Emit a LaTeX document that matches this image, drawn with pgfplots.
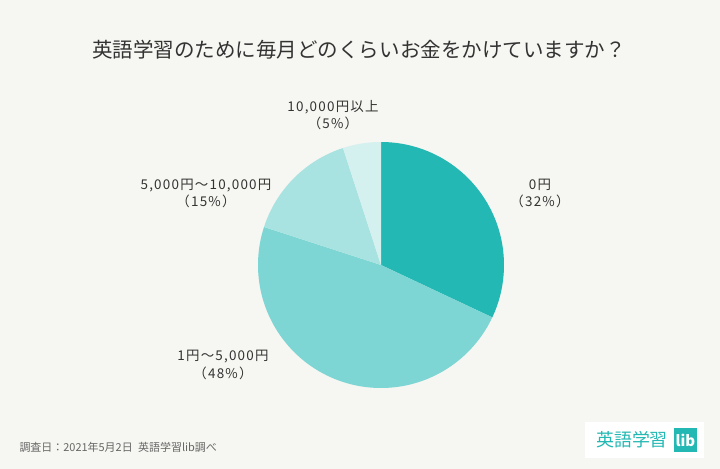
\documentclass[border=0pt]{standalone}
\usepackage{fontspec}
\setmainfont{Noto Sans CJK JP}
\usepackage{pgfplots}
\pgfplotsset{compat=1.18}
\definecolor{bg}{HTML}{F6F6F2}
\definecolor{cA}{HTML}{23B8B3}
\definecolor{cB}{HTML}{7DD6D4}
\definecolor{cC}{HTML}{A8E3E1}
\definecolor{cD}{HTML}{D4F0EF}
\definecolor{txt}{HTML}{333333}
\definecolor{foot}{HTML}{666666}
\newcommand\lblfont{\fontsize{13.5}{17.5}\selectfont\addfontfeature{LetterSpace=9}}
\begin{document}
\begin{tikzpicture}
\fill[bg] (0,0) rectangle (720bp,469bp);
\begin{axis}[x=1bp, y=1bp, xmin=0, xmax=720, ymin=0, ymax=469,
  hide axis, clip=false, at={(0,0)}, anchor=south west]
% shares in percent, clockwise from 12 o'clock
\def\vA{32}\def\vB{48}\def\vC{15}\def\vD{5}
\def\cx{381}\def\cy{204}\def\r{123}
\addplot[fill=cA, draw=none, domain={90-3.6*\vA}:90, samples=80, variable=\t]
  ({\cx+\r*cos(\t)},{\cy+\r*sin(\t)}) -- (axis cs:\cx,\cy) -- cycle;
\addplot[fill=cB, draw=none, domain={90-3.6*(\vA+\vB)}:{90-3.6*\vA}, samples=100, variable=\t]
  ({\cx+\r*cos(\t)},{\cy+\r*sin(\t)}) -- (axis cs:\cx,\cy) -- cycle;
\addplot[fill=cC, draw=none, domain={90-3.6*(\vA+\vB+\vC)}:{90-3.6*(\vA+\vB)}, samples=40, variable=\t]
  ({\cx+\r*cos(\t)},{\cy+\r*sin(\t)}) -- (axis cs:\cx,\cy) -- cycle;
\addplot[fill=cD, draw=none, domain={90-3.6*(\vA+\vB+\vC+\vD)}:{90-3.6*(\vA+\vB+\vC)}, samples=20, variable=\t]
  ({\cx+\r*cos(\t)},{\cy+\r*sin(\t)}) -- (axis cs:\cx,\cy) -- cycle;
% title
\node[text=txt, font=\fontsize{20.6}{23}\selectfont] at (axis cs:359,419) {英語学習のために毎月どのくらいお金をかけていますか？};
% labels
\node[text=txt, align=center, font=\lblfont] at (axis cs:540,275.5) {0円\\（32\%）};
\node[text=txt, align=center, font=\lblfont] at (axis cs:223,104) {1円～5,000円\\（48\%）};
\node[text=txt, align=center, font=\lblfont] at (axis cs:206,275.5) {5,000円～10,000円\\（15\%）};
\node[text=txt, align=center, font=\lblfont] at (axis cs:333,354) {10,000円以上\\（5\%）};
% footer
\node[text=foot, anchor=west, font=\fontsize{11}{12}\selectfont] at (axis cs:16,22) {調査日：2021年5月2日\hspace{0.5em}英語学習lib調べ};
% logo
\fill[white] (axis cs:585,11) rectangle (axis cs:704,47);
\node[text=cA, anchor=west, font=\fontsize{18}{20}\selectfont, inner sep=0pt] at (axis cs:596,29) {英語学習};
\fill[cA] (axis cs:674,17) rectangle (axis cs:697,41);
\node[text=white, font=\fontsize{15}{16}\selectfont\bfseries] at (axis cs:685.5,29) {lib};
\end{axis}
\end{tikzpicture}
\end{document}
